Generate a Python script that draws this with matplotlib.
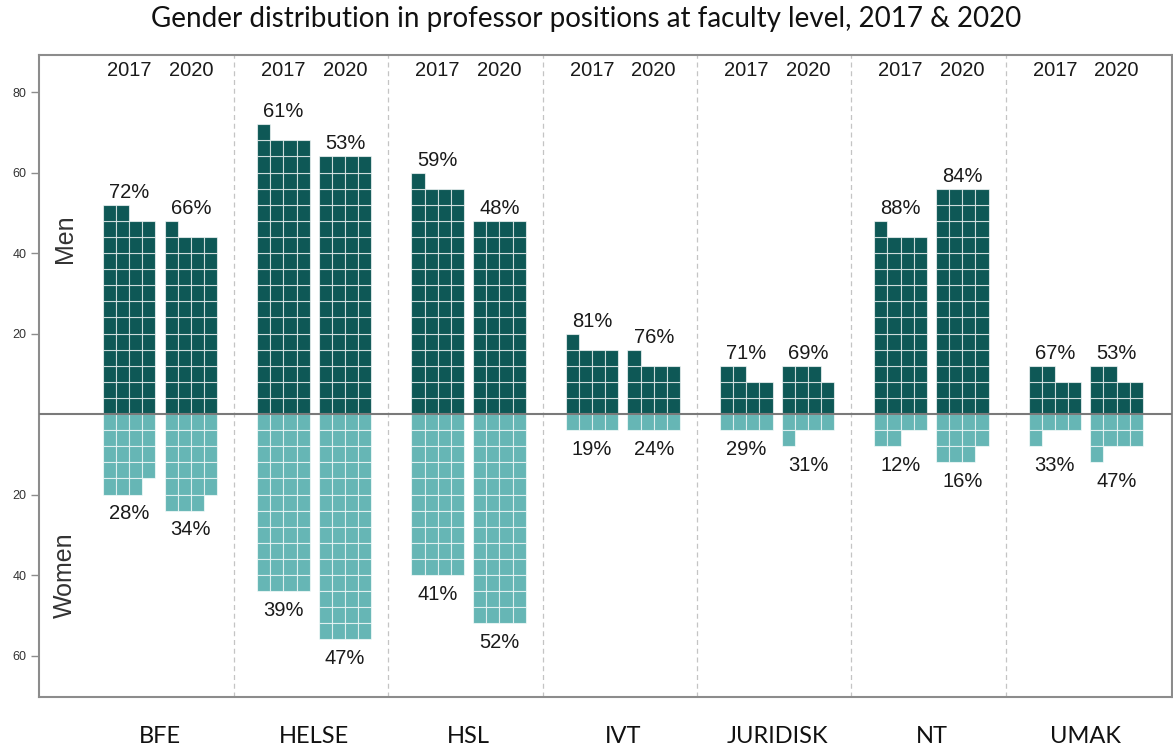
#!/usr/bin/env python3
# Waffle-style chart: gender distribution in professor positions, 2017 & 2020
# Each square is one person; rows of 4 squares stacked up (men) / down (women).

import matplotlib
matplotlib.use("Agg")

import matplotlib.pyplot as plt
from matplotlib.patches import Rectangle
import matplotlib.transforms as mtransforms

# ------------------------------------------------------------
# Data (head counts read off the squares)
# ------------------------------------------------------------
faculties = ["BFE", "HELSE", "HSL", "IVT", "JURIDISK", "NT", "UMAK"]
years = ["2017", "2020"]

men_2017 = [50, 69, 57, 17, 10, 45, 10]
women_2017 = [19, 44, 40, 4, 4, 6, 5]
men_2020 = [45, 64, 48, 13, 11, 56, 10]
women_2020 = [23, 56, 52, 4, 5, 11, 9]

men_pct_2017 = ["72%", "61%", "59%", "81%", "71%", "88%", "67%"]
women_pct_2017 = ["28%", "39%", "41%", "19%", "29%", "12%", "33%"]
men_pct_2020 = ["66%", "53%", "48%", "76%", "69%", "84%", "53%"]
women_pct_2020 = ["34%", "47%", "52%", "24%", "31%", "16%", "47%"]

y_ticks = [80, 60, 40, 20, -20, -40, -60]

# ------------------------------------------------------------
# Style
# ------------------------------------------------------------
MEN_COLOR = "#0e5856"
WOMEN_COLOR = "#66b6b5"
FRAME_COLOR = "#8c8c8c"
TEXT_COLOR = "#1a1a1a"
ARIAL = ["Liberation Sans", "DejaVu Sans"]
CALIBRI = ["Lato", "DejaVu Sans"]

SQ_W = 0.085      # square width (x units, one group = 1 unit)
ROW_H = 4.0       # one row of 4 people
PER_ROW = 4
BLOCK_GAP = 0.06
GROUP_SPAN = 2 * PER_ROW * SQ_W + BLOCK_GAP


def draw_waffle(ax, left, count, color, direction):
    """Stack `count` squares, 4 per row, upward (+1) or downward (-1) from 0."""
    full_rows, rest = divmod(count, PER_ROW)
    cells = [(r, c) for r in range(full_rows) for c in range(PER_ROW)]
    cells += [(full_rows, c) for c in range(rest)]
    for r, c in cells:
        y0 = r * ROW_H if direction > 0 else -(r + 1) * ROW_H
        ax.add_patch(Rectangle((left + c * SQ_W, y0), SQ_W, ROW_H,
                               facecolor=color, edgecolor=(1, 1, 1, 0.65),
                               linewidth=0.8, zorder=3))
    rows = full_rows + (1 if rest else 0)
    return rows * ROW_H


def main() -> int:
    fig = plt.figure(figsize=(11.73, 7.49), dpi=100)
    W, H = 1173.0, 749.0
    ax = fig.add_axes([39 / W, 1 - 697 / H, (1172 - 39) / W, (697 - 55) / H])

    ax.set_xlim(-0.784, 6.559)
    ax.set_ylim(-70.3, 89.2)

    series = [
        (men_2017, women_2017, men_pct_2017, women_pct_2017),
        (men_2020, women_2020, men_pct_2020, women_pct_2020),
    ]

    for g, fac in enumerate(faculties):
        group_left = g - GROUP_SPAN / 2
        for k, (men, women, mp, wp) in enumerate(series):
            left = group_left + k * (PER_ROW * SQ_W + BLOCK_GAP)
            cx = left + PER_ROW * SQ_W / 2
            top = draw_waffle(ax, left, men[g], MEN_COLOR, +1)
            bottom = draw_waffle(ax, left, women[g], WOMEN_COLOR, -1)

            ax.annotate(mp[g], (cx, top), xytext=(0, 5), textcoords="offset points",
                        ha="center", va="baseline", fontsize=14.5,
                        family=ARIAL, color=TEXT_COLOR, zorder=4)
            ax.annotate(wp[g], (cx, -bottom), xytext=(0, -7), textcoords="offset points",
                        ha="center", va="top", fontsize=14.5,
                        family=ARIAL, color=TEXT_COLOR, zorder=4)
            ax.text(cx, 87.7, years[k], ha="center", va="top", fontsize=14.5,
                    family=ARIAL, color=TEXT_COLOR)

        # faculty label under the axes
        ax.text(g, -0.0717, fac, transform=mtransforms.blended_transform_factory(ax.transData, ax.transAxes),
                ha="center", va="baseline", fontsize=17, family=CALIBRI, color="#111111")

        # dashed group separator
        if g < len(faculties) - 1:
            ax.axvline(g + 0.48, color="#c4c4c4", linestyle=(0, (4, 3)), linewidth=0.9, zorder=1)

    # zero line
    ax.axhline(0, color="#7a7a7a", linewidth=1.5, zorder=5)

    # y axis: counts, women shown as positive numbers
    ax.set_yticks(y_ticks)
    ax.set_yticklabels([str(abs(v)) for v in y_ticks], family=ARIAL, fontsize=9, color="#333333")
    ax.tick_params(axis="y", length=6, width=1, color=FRAME_COLOR, pad=3)
    ax.set_xticks([])

    for side in ["left", "right", "top", "bottom"]:
        ax.spines[side].set_color(FRAME_COLOR)
        ax.spines[side].set_linewidth(1.5)

    ytrans = ax.get_yaxis_transform()
    ax.text(0.023, 43.5, "Men", transform=ytrans, rotation=90, ha="center", va="center",
            fontsize=18, family=ARIAL, color="#333333")
    ax.text(0.023, -40, "Women", transform=ytrans, rotation=90, ha="center", va="center",
            fontsize=18, family=ARIAL, color="#333333")

    fig.text(0.5, 1 - 27 / H, "Gender distribution in professor positions at faculty level, 2017 & 2020",
             ha="center", va="baseline", fontsize=20, family=CALIBRI, color="#111111")

    fig.savefig("out.png", dpi=100)
    plt.close(fig)
    return 0


if __name__ == "__main__":
    raise SystemExit(main())
